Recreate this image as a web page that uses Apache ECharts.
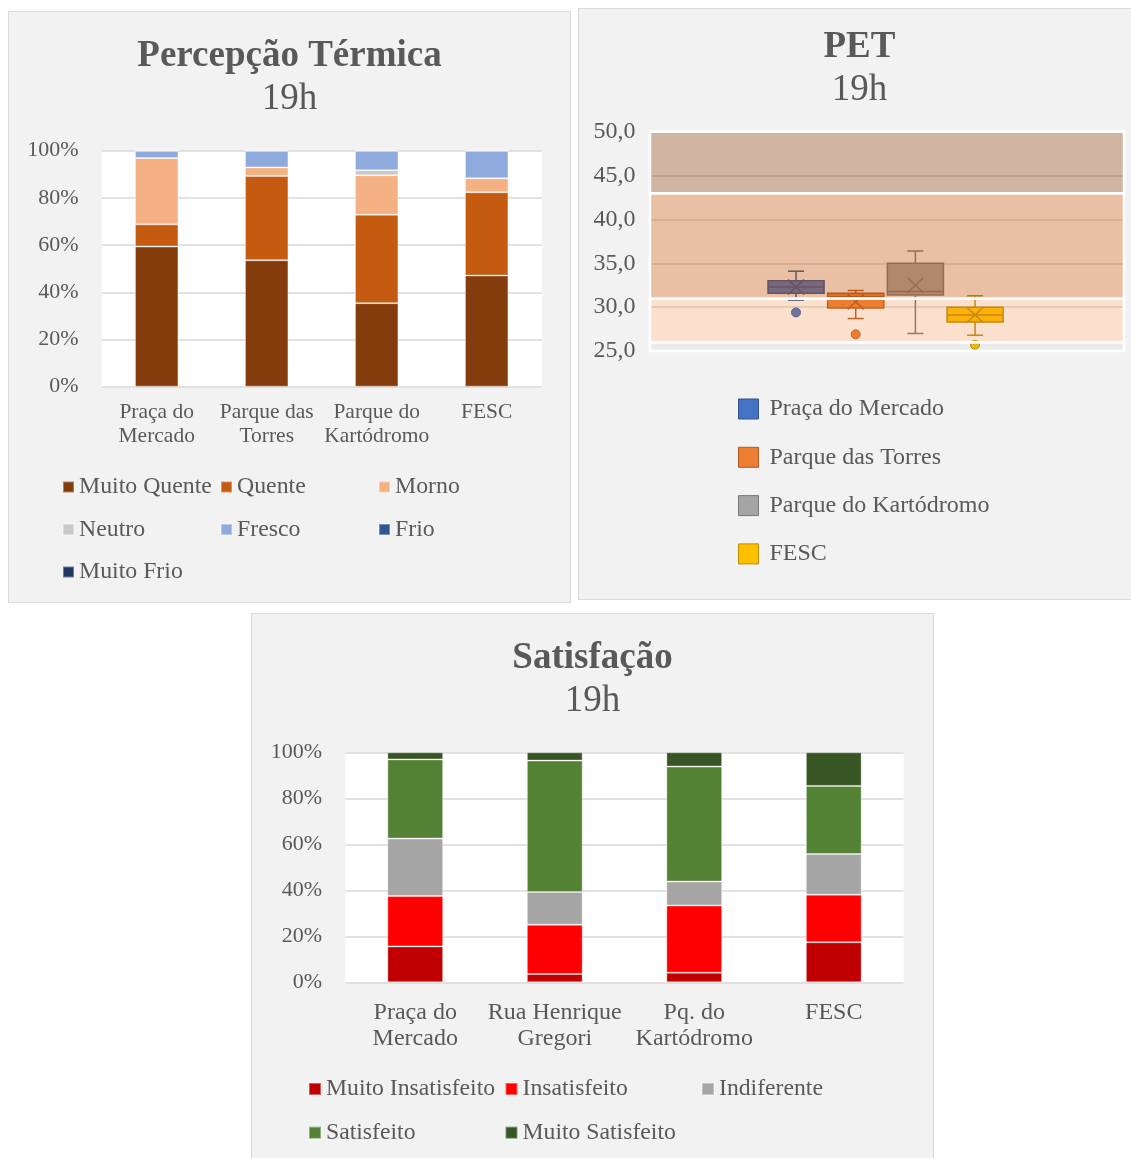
<!DOCTYPE html>
<html>
<head>
<meta charset="utf-8">
<title>Percepção Térmica, PET e Satisfação – 19h</title>
<script src="https://cdn.jsdelivr.net/npm/echarts@6/dist/echarts.min.js"></script>
<style>
  html, body { margin: 0; padding: 0; width: 1131px; height: 1158px; overflow: hidden; background: #ffffff; }
  .panel { position: absolute; box-sizing: border-box; border: 1px solid #d9d9d9; background: #f2f2f2; }
  #percepcao { left: 8px; top: 11px; width: 563px; height: 592px; }
  #pet { left: 578px; top: 8px; width: 563px; height: 592px; }
  #satisfacao { left: 251px; top: 613px; width: 683px; height: 560px; }
</style>
</head>
<body>
<div id="percepcao" class="panel"></div>
<div id="pet" class="panel"></div>
<div id="satisfacao" class="panel"></div>
<script>
// ---------- Percepção Térmica (% das respostas) ----------
const percepcaoLocais = ['Praça do\nMercado', 'Parque das\nTorres', 'Parque do\nKartódromo', 'FESC'];
const percepcaoClasses = ['Muito Quente', 'Quente', 'Morno', 'Neutro', 'Fresco', 'Frio', 'Muito Frio'];
const percepcaoCores = ['#843c0c', '#c55a11', '#f4b183', '#c9c9c9', '#8faadc', '#2f5597', '#1f3864'];
const muitoQuente = [59.4, 53.6, 35.4, 47.1];
const quente      = [9.4, 35.7, 37.5, 35.3];
const morno       = [28.1, 3.6, 16.7, 5.9];
const neutro      = [0, 0, 2.1, 0];
const fresco      = [3.1, 7.1, 8.3, 11.7];
const frio        = [0, 0, 0, 0];
const muitoFrio   = [0, 0, 0, 0];

// ---------- Satisfação (% das respostas) ----------
const satisfacaoLocais = ['Praça do\nMercado', 'Rua Henrique\nGregori', 'Pq. do\nKartódromo', 'FESC'];
const satisfacaoClasses = ['Muito Insatisfeito', 'Insatisfeito', 'Indiferente', 'Satisfeito', 'Muito Satisfeito'];
const satisfacaoCores = ['#c00000', '#ff0000', '#a5a5a5', '#548235', '#375623'];
const muitoInsatisfeito = [15.6, 3.6, 4.2, 17.4];
const insatisfeito      = [21.9, 21.4, 29.2, 20.7];
const indiferente       = [25.0, 14.3, 10.4, 17.7];
const satisfeito        = [34.4, 57.1, 50.0, 29.6];
const muitoSatisfeito   = [3.1, 3.6, 6.2, 14.6];

// ---------- PET (°C) – diagrama de caixa ----------
const petLocais  = ['Praça do Mercado', 'Parque das Torres', 'Parque do Kartódromo', 'FESC'];
const petCores   = ['#4472c4', '#ed7d31', '#a5a5a5', '#ffc000'];
const petBordas  = ['#2f528f', '#ae5a21', '#787878', '#bc8c00'];
const petMin     = [30.8, 28.7, 27.0, 26.8];
const petQ1      = [31.6, 29.9, 31.4, 28.3];
const petMediana = [32.3, 31.2, 31.8, 29.1];
const petQ3      = [33.0, 31.6, 35.0, 30.0];
const petMax     = [34.1, 31.9, 36.4, 31.3];
const petMedia   = [32.3, 30.6, 32.5, 29.1];
const petOutlier = [29.4, 26.9, null, 25.7];
// faixas de sensação térmica (limites em PET)
const faixasLimites = [25, 26, 31, 43, 50];
const faixasCores = ['rgba(128,128,128,0.16)', 'rgba(237,125,49,0.24)', 'rgba(197,90,17,0.38)', 'rgba(132,60,12,0.38)'];

const FONT = "'Liberation Serif', 'Times New Roman', serif";
const TEXT = '#595959';

function titulo(nome, top) {
  return {
    left: 'center', top: top, padding: 0,
    text: '{b|' + nome + '}\n{r|19h}',
    textStyle: {
      fontWeight: 'normal',
      rich: {
        b: { fontFamily: FONT, fontSize: 37, fontWeight: 'bold', color: TEXT, lineHeight: 43 },
        r: { fontFamily: FONT, fontSize: 37, fontWeight: 'normal', color: TEXT, lineHeight: 43 }
      }
    }
  };
}

function barrasEmpilhadas(cfg) {
  return {
    animation: false,
    textStyle: { fontFamily: FONT },
    title: titulo(cfg.titulo, cfg.tituloTop),
    grid: Object.assign({ show: true, backgroundColor: '#ffffff', borderWidth: 0 }, cfg.grid),
    xAxis: {
      type: 'category', data: cfg.locais,
      axisLine: { show: false }, axisTick: { show: false },
      axisLabel: { interval: 0, fontFamily: FONT, fontSize: cfg.catFont, color: TEXT, lineHeight: cfg.catLine, margin: cfg.catMargin }
    },
    yAxis: {
      type: 'value', min: 0, max: 100, interval: 20,
      axisLine: { show: false }, axisTick: { show: false },
      axisLabel: { formatter: '{value}%', fontFamily: FONT, fontSize: 22, color: TEXT, margin: cfg.yMargin },
      splitLine: { lineStyle: { color: '#d9d9d9', width: 1.5 } }
    },
    legend: Object.assign({
      icon: 'rect', itemGap: 5, padding: 0,
      textStyle: { fontFamily: FONT, fontSize: cfg.legFont, color: TEXT, width: cfg.legTextWidth, lineHeight: cfg.legLine },
      data: cfg.classes
    }, cfg.legend),
    series: cfg.classes.map((nome, i) => ({
      name: nome, type: 'bar', stack: 'total',
      barWidth: cfg.barWidth,
      data: cfg.valores[i],
      itemStyle: { color: cfg.cores[i], borderColor: 'rgba(255,255,255,0.35)', borderWidth: 1 }
    }))
  };
}

// Percepção Térmica
echarts.init(document.getElementById('percepcao'), null, { renderer: 'canvas' }).setOption(barrasEmpilhadas({
  titulo: 'Percepção Térmica', tituloTop: 23,
  locais: percepcaoLocais, classes: percepcaoClasses, cores: percepcaoCores,
  valores: [muitoQuente, quente, morno, neutro, fresco, frio, muitoFrio],
  grid: { left: 92.7, top: 138.7, width: 440, height: 236 },
  catFont: 21.5, catLine: 24, catMargin: 13.3, yMargin: 23,
  barWidth: '39.5%',
  legFont: 23.8, legLine: 37.5, legTextWidth: 136,
  legend: { left: 53, top: 456.25, width: 480, itemWidth: 11, itemHeight: 11 }
}));

// Satisfação
echarts.init(document.getElementById('satisfacao'), null, { renderer: 'canvas' }).setOption(barrasEmpilhadas({
  titulo: 'Satisfação', tituloTop: 22.5,
  locais: satisfacaoLocais, classes: satisfacaoClasses, cores: satisfacaoCores,
  valores: [muitoInsatisfeito, insatisfeito, indiferente, satisfeito, muitoSatisfeito],
  grid: { left: 93.5, top: 138.3, width: 558, height: 230 },
  catFont: 24, catLine: 26.3, catMargin: 17, yMargin: 23.5,
  barWidth: '40%',
  legFont: 23.7, legLine: 38.7, legTextWidth: 173.5,
  legend: { left: 56, top: 455.6, width: 590, itemWidth: 12, itemHeight: 12 }
}));

// PET – caixas desenhadas sobre o eixo de categorias da grade interna
function desenhaCaixa(params, api) {
  const i = api.value(0);
  const y = v => api.coord([i, v])[1];
  const cx = api.coord([i, api.value(3)])[0];
  const w = api.size([1, 0])[0] * 0.94;
  const cap = 16;
  const yMin = y(api.value(1)), yQ1 = y(api.value(2)), yMed = y(api.value(3));
  const yQ3 = y(api.value(4)), yMax = y(api.value(5)), yMean = y(api.value(6));
  const linha = { stroke: petBordas[i], lineWidth: 1.5 };
  return {
    type: 'group',
    children: [
      { type: 'line', shape: { x1: cx, y1: yMax, x2: cx, y2: yQ3 }, style: linha },
      { type: 'line', shape: { x1: cx, y1: yQ1, x2: cx, y2: yMin }, style: linha },
      { type: 'line', shape: { x1: cx - cap / 2, y1: yMax, x2: cx + cap / 2, y2: yMax }, style: linha },
      { type: 'line', shape: { x1: cx - cap / 2, y1: yMin, x2: cx + cap / 2, y2: yMin }, style: linha },
      { type: 'rect', shape: { x: cx - w / 2, y: yQ3, width: w, height: yQ1 - yQ3 },
        style: { fill: petCores[i], stroke: petBordas[i], lineWidth: 1.5 } },
      { type: 'line', shape: { x1: cx - w / 2, y1: yMed, x2: cx + w / 2, y2: yMed }, style: linha },
      { type: 'line', shape: { x1: cx - 8, y1: yMean - 7.5, x2: cx + 8, y2: yMean + 7.5 }, style: linha },
      { type: 'line', shape: { x1: cx - 8, y1: yMean + 7.5, x2: cx + 8, y2: yMean - 7.5 }, style: linha }
    ]
  };
}

function desenhaFaixa(params, api) {
  const cs = params.coordSys;
  const yTopo = api.coord([0, api.value(2)])[1];
  const yBase = api.coord([0, api.value(1)])[1];
  return {
    type: 'rect',
    shape: { x: cs.x, y: yTopo, width: cs.width, height: yBase - yTopo },
    style: { fill: faixasCores[params.dataIndex], stroke: '#ffffff', lineWidth: 2.5 }
  };
}

const faixasDados = faixasCores.map((c, k) => [0, faixasLimites[k], faixasLimites[k + 1]]);

echarts.init(document.getElementById('pet'), null, { renderer: 'canvas' }).setOption({
  animation: false,
  textStyle: { fontFamily: FONT },
  title: titulo('PET', 17),
  legend: {
    orient: 'vertical', left: 159, top: 388, padding: 0,
    itemWidth: 20, itemHeight: 20, itemGap: 24.3,
    textStyle: { fontFamily: FONT, fontSize: 24, color: TEXT, lineHeight: 24, padding: [0, 0, 0, 6] },
    data: petLocais.map((n, i) => ({
      name: n, icon: 'rect',
      itemStyle: { color: petCores[i], borderColor: petBordas[i], borderWidth: 1 }
    }))
  },
  grid: [
    { left: 71, top: 122.8, width: 474, height: 219.2, show: true, backgroundColor: '#ffffff', borderWidth: 0 },
    { left: 187.2, top: 122.8, width: 238.7, height: 219.2 }
  ],
  xAxis: [
    { gridIndex: 0, type: 'category', data: ['PET'], show: false },
    { gridIndex: 1, type: 'category', data: petLocais, show: false }
  ],
  yAxis: [
    {
      gridIndex: 0, type: 'value', min: 25, max: 50, interval: 5,
      axisLine: { show: false }, axisTick: { show: false },
      axisLabel: { formatter: v => v.toFixed(1).replace('.', ','), fontFamily: FONT, fontSize: 24, color: TEXT, margin: 14.5 },
      splitLine: { lineStyle: { color: '#d9d9d9', width: 1.5 } }
    },
    { gridIndex: 1, type: 'value', min: 25, max: 50, interval: 5, show: false, splitLine: { show: false } }
  ],
  series: [
    {
      type: 'custom', xAxisIndex: 1, yAxisIndex: 1, z: 2, silent: true,
      renderItem: desenhaCaixa,
      encode: { x: 0, y: [1, 2, 3, 4, 5, 6] },
      data: petLocais.map((n, i) => [i, petMin[i], petQ1[i], petMediana[i], petQ3[i], petMax[i], petMedia[i]])
    },
    ...petLocais.map((n, i) => ({
      name: n, type: 'scatter', xAxisIndex: 1, yAxisIndex: 1, z: 3,
      symbol: 'circle', symbolSize: 9,
      itemStyle: { color: petCores[i], borderColor: petBordas[i], borderWidth: 1, opacity: 1 },
      data: petOutlier[i] == null ? [] : [[i, petOutlier[i]]]
    })),
    {
      type: 'custom', xAxisIndex: 0, yAxisIndex: 0, z: 10, silent: true,
      renderItem: desenhaFaixa,
      encode: { x: 0, y: [1, 2] },
      data: faixasDados
    }
  ]
});
</script>
</body>
</html>
